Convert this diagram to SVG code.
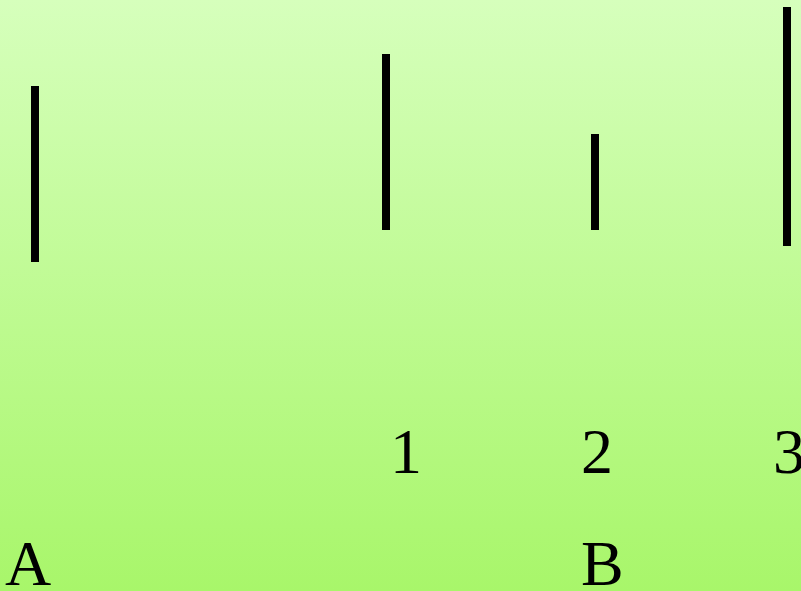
<svg xmlns="http://www.w3.org/2000/svg" width="801" height="591" viewBox="0 0 801 591">
<defs>
<linearGradient id="bg" x1="0" y1="0" x2="0" y2="1">
<stop offset="0" stop-color="#d6ffbc"/>
<stop offset="1" stop-color="#a8f66a"/>
</linearGradient>
<style>
.bar{stroke:#000;stroke-width:8;fill:none}
.lbl{font-family:"Liberation Serif","Times New Roman",serif;font-size:64px;fill:#000}
</style>
</defs>
<rect x="0" y="0" width="801" height="591" fill="url(#bg)"/>
<g id="connectors">
<line class="bar" x1="35" y1="86" x2="35" y2="262"/>
<line class="bar" x1="386" y1="54" x2="386" y2="230"/>
<line class="bar" x1="595" y1="134" x2="595" y2="230"/>
<line class="bar" x1="787" y1="7" x2="787" y2="246"/>
</g>
<g id="label-1"><text class="lbl" x="390" y="473">1</text></g>
<g id="label-2"><text class="lbl" x="581" y="473">2</text></g>
<g id="label-3"><text class="lbl" x="773" y="473">3</text></g>
<g id="label-A"><text class="lbl" x="5" y="585">A</text></g>
<g id="label-B"><text class="lbl" x="581" y="585">B</text></g>
</svg>
